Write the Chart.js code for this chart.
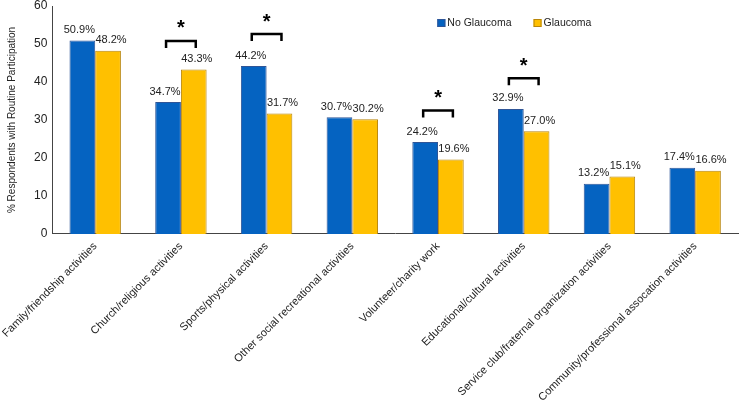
<!DOCTYPE html>
<html>
<head>
<meta charset="utf-8">
<script src="https://cdn.jsdelivr.net/npm/chart.js@4"></script>
<style>
  html, body { margin: 0; padding: 0; background: #fff; }
  #wrap { width: 740px; height: 400px; position: relative; }
</style>
</head>
<body>
<div id="wrap"><canvas id="chart"></canvas></div>
<script>
// ═══ Social participation by glaucoma status ═══
const categories = [
  "Family/friendship activities",
  "Church/religious activities",
  "Sports/physical activities",
  "Other social recreational activities",
  "Volunteer/charity work",
  "Educational/cultural activities",
  "Service club/fraternal organization activities",
  "Community/professional assocation activities",
];
const noGlaucoma = [50.9, 34.7, 44.2, 30.7, 24.2, 32.9, 13.2, 17.4];
const glaucoma = [48.2, 43.3, 31.7, 30.2, 19.6, 27.0, 15.1, 16.6];
// height (in % units) of the significance bracket per category, null = none
const bracketAt = [null, 50.8, 52.6, null, 32.5, 41.0, null, null];
const yTicks = [0, 10, 20, 30, 40, 50, 60];

const FONT = "'Liberation Sans', Arial, sans-serif";
const BLUE = "#0563c1";
const ORANGE = "#ffc000";

// value labels over each bar
const barLabels = {
  id: "barLabels",
  afterDatasetsDraw(chart) {
    const ctx = chart.ctx;
    ctx.save();
    ctx.font = `11px ${FONT}`;
    ctx.fillStyle = "#222";
    ctx.textAlign = "center";
    ctx.textBaseline = "bottom";
    chart.data.datasets.forEach((ds, di) => {
      const dx = di === 0 ? -3 : 3;
      chart.getDatasetMeta(di).data.forEach((bar, i) => {
        ctx.fillText(ds.data[i].toFixed(1) + "%", bar.x + dx, bar.y - 5);
      });
    });
    ctx.restore();
  },
};

// brackets + asterisks for significant differences
const sigMarks = {
  id: "sigMarks",
  afterDatasetsDraw(chart) {
    const ctx = chart.ctx;
    const y = chart.scales.y;
    const m0 = chart.getDatasetMeta(0).data;
    const m1 = chart.getDatasetMeta(1).data;
    ctx.save();
    ctx.strokeStyle = "#000";
    ctx.lineWidth = 2.5;
    ctx.fillStyle = "#000";
    ctx.textAlign = "center";
    ctx.textBaseline = "middle";
    ctx.font = `bold 20px ${FONT}`;
    bracketAt.forEach((v, i) => {
      if (v == null) return;
      const yy = y.getPixelForValue(v);
      const x0 = m0[i].x - 2, x1 = m1[i].x + 2;
      ctx.beginPath();
      ctx.moveTo(x0, yy + 7);
      ctx.lineTo(x0, yy);
      ctx.lineTo(x1, yy);
      ctx.lineTo(x1, yy + 7);
      ctx.stroke();
      ctx.fillText("*", (x0 + x1) / 2, yy - 12);
    });
    ctx.restore();
  },
};

// legend drawn inside the plot area, right of centre
const innerLegend = {
  id: "innerLegend",
  afterDraw(chart) {
    const ctx = chart.ctx;
    const a = chart.chartArea;
    let x = a.left + 385;
    const y = a.top + 17;
    ctx.save();
    ctx.font = `10.5px ${FONT}`;
    ctx.textBaseline = "middle";
    ctx.textAlign = "left";
    chart.data.datasets.forEach((ds) => {
      ctx.fillStyle = ds.backgroundColor;
      ctx.fillRect(x, y - 4, 8, 8);
      ctx.strokeStyle = ds.borderColor;
      ctx.lineWidth = 1;
      ctx.strokeRect(x + 0.5, y - 3.5, 7, 7);
      ctx.fillStyle = "#222";
      ctx.fillText(ds.label, x + 10, y);
      x += 10 + ctx.measureText(ds.label).width + 22;
    });
    ctx.restore();
  },
};

new Chart(document.getElementById("chart"), {
  type: "bar",
  data: {
    labels: categories,
    datasets: [
      { label: "No Glaucoma", data: noGlaucoma, backgroundColor: BLUE, borderColor: "#2f5597", borderWidth: 1 },
      { label: "Glaucoma", data: glaucoma, backgroundColor: ORANGE, borderColor: "#b8860b", borderWidth: 1 },
    ],
  },
  options: {
    responsive: true,
    maintainAspectRatio: false,
    animation: false,
    layout: { padding: { top: 0, right: 2, left: 0, bottom: 0 } },
    datasets: { bar: { categoryPercentage: 0.6, barPercentage: 1.0 } },
    plugins: { legend: { display: false }, tooltip: { enabled: false } },
    scales: {
      x: {
        grid: { display: false, drawTicks: false },
        border: { color: "#444", width: 1 },
        ticks: {
          autoSkip: false, maxRotation: 45, minRotation: 45, padding: 6,
          color: "#222", font: { family: FONT, size: 11 },
        },
        // let the first rotated label hang into the left margin, tighten the axis height
        afterFit: (s) => { s.paddingLeft = 0; s.height -= 10; },
      },
      y: {
        min: 0, max: 60,
        afterBuildTicks: (s) => { s.ticks = yTicks.map((v) => ({ value: v })); },
        afterFit: (s) => { s.paddingTop = 6; },
        grid: { display: false, drawTicks: false },
        border: { color: "#444", width: 1 },
        ticks: { padding: 5, color: "#222", font: { family: FONT, size: 12 } },
        title: {
          display: true, text: "% Respondents with Routine Participation",
          color: "#222", font: { family: FONT, size: 10 }, padding: { top: 6, bottom: 11 },
        },
      },
    },
  },
  plugins: [barLabels, sigMarks, innerLegend],
});
</script>
</body>
</html>
